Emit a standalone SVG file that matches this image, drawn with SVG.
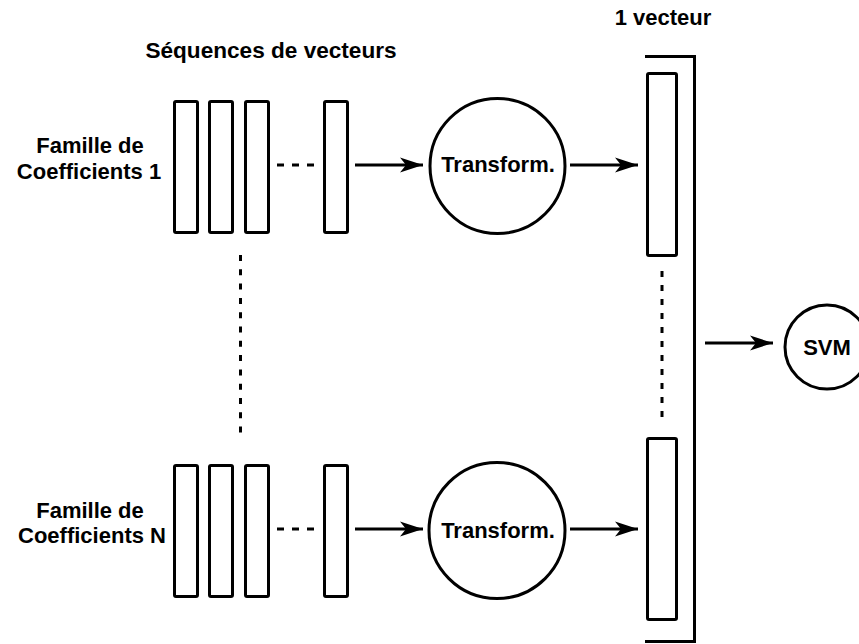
<svg xmlns="http://www.w3.org/2000/svg" width="859" height="644" viewBox="0 0 859 644">
<style>
.lbl{font-family:"Liberation Sans",Arial,sans-serif;font-weight:bold;font-size:22px;fill:#000}
.mid{text-anchor:middle}
.box{fill:#fff;stroke:#000;stroke-width:3}
.ln{fill:none;stroke:#000;stroke-width:3}
.dot{fill:none;stroke:#000;stroke-width:3;stroke-dasharray:6 8}
.arr{fill:none;stroke:#000;stroke-width:3;marker-end:url(#ah)}
</style>
<defs>
<marker id="ah" markerUnits="userSpaceOnUse" markerWidth="26" markerHeight="18" viewBox="-23 -9 26 18" refX="0" refY="0" orient="auto">
<path d="M0,0 L-23,-7.5 L-17,0 L-23,7.5 Z" fill="#000"/>
</marker>
</defs>
<g id="titles">
<text class="lbl mid" x="271" y="58" style="font-size:22.6px">Séquences de vecteurs</text>
<text class="lbl mid" x="663" y="25">1 vecteur</text>
</g>
<g id="label-1">
<text class="lbl mid" x="90" y="153">Famille de</text>
<text class="lbl mid" x="89" y="179">Coefficients 1</text>
</g>
<g id="label-N">
<text class="lbl mid" x="90" y="518">Famille de</text>
<text class="lbl mid" x="92" y="543">Coefficients N</text>
</g>
<g id="seq-1">
<rect class="box" x="174.5" y="101.5" width="23" height="131" rx="1.5"/>
<rect class="box" x="209.5" y="101.5" width="23" height="131" rx="1.5"/>
<rect class="box" x="245.5" y="101.5" width="23" height="131" rx="1.5"/>
<rect class="box" x="324.5" y="101.5" width="23" height="131" rx="1.5"/>
<line class="dot" x1="277" y1="165" x2="315" y2="165" style="stroke-dasharray:7 8"/>
</g>
<g id="seq-N">
<rect class="box" x="174.5" y="465.5" width="23" height="131" rx="1.5"/>
<rect class="box" x="209.5" y="465.5" width="23" height="131" rx="1.5"/>
<rect class="box" x="245.5" y="465.5" width="23" height="131" rx="1.5"/>
<rect class="box" x="324.5" y="465.5" width="23" height="131" rx="1.5"/>
<line class="dot" x1="277" y1="529" x2="315" y2="529" style="stroke-dasharray:7 8"/>
</g>
<g id="transform-1">
<circle class="box" cx="497.5" cy="166" r="67.5"/>
<text class="lbl mid" x="498" y="172">Transform.</text>
</g>
<g id="transform-N">
<circle class="box" cx="497" cy="530.5" r="68"/>
<text class="lbl mid" x="498" y="538">Transform.</text>
</g>
<g id="vector">
<rect class="box" x="647.5" y="73.5" width="29" height="182" rx="1.5"/>
<rect class="box" x="647.5" y="438.5" width="29" height="181" rx="1.5"/>
<path class="ln" d="M645,56.5 H694.5 V641.5 H645"/>
<line class="dot" x1="662" y1="271" x2="662" y2="421"/>
</g>
<g id="svm">
<circle class="box" cx="827" cy="347" r="42"/>
<text class="lbl mid" x="827" y="355">SVM</text>
</g>
<g id="connectors">
<line class="dot" x1="240.5" y1="255" x2="240.5" y2="436" style="stroke-dasharray:6 8.3"/>
<line class="arr" x1="355" y1="165" x2="423" y2="165"/>
<line class="arr" x1="570" y1="165" x2="638" y2="165"/>
<line class="arr" x1="355" y1="529" x2="423" y2="529"/>
<line class="arr" x1="570" y1="529" x2="638" y2="529"/>
<line class="arr" x1="705" y1="343" x2="773" y2="343"/>
</g>
</svg>
